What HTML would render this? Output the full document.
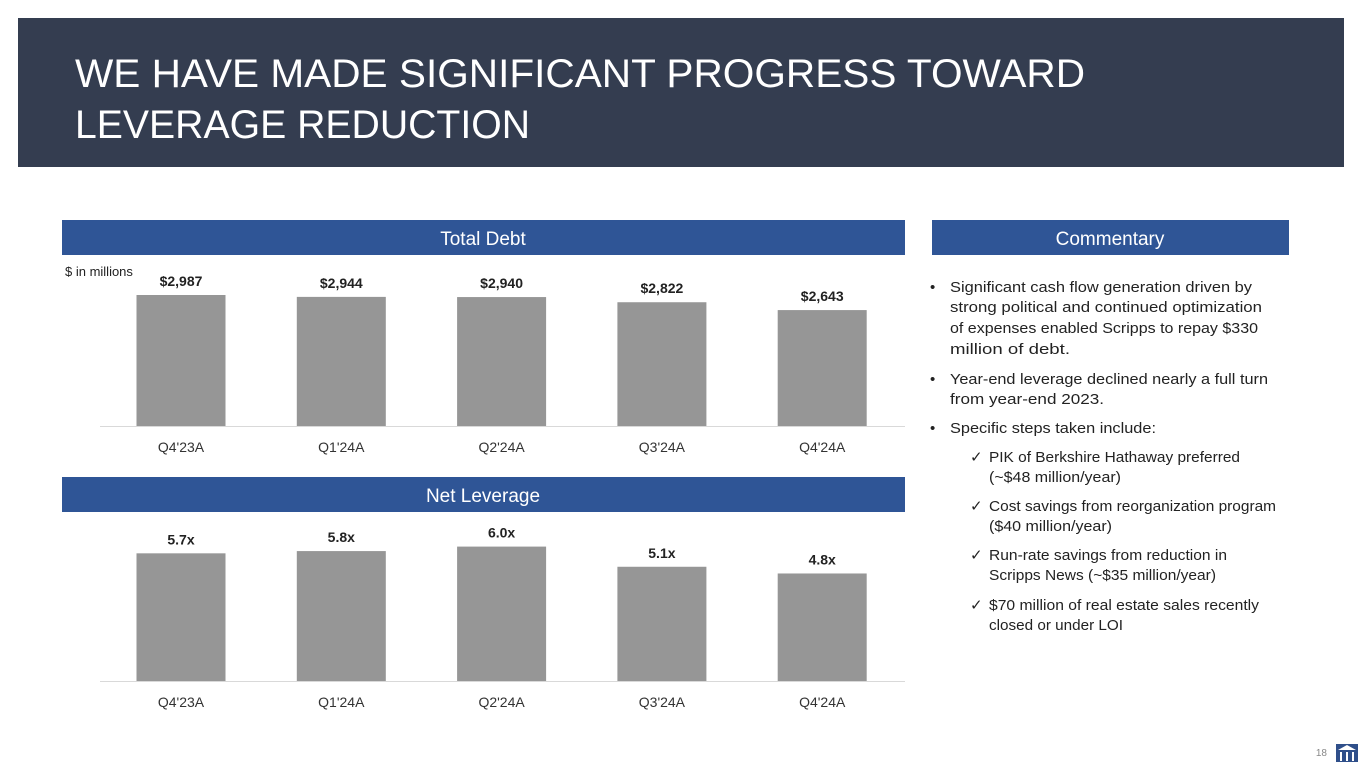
<!DOCTYPE html>
<html><head><meta charset="utf-8"><style>
html,body{margin:0;padding:0;background:#fff;}
svg{display:block;font-family:"Liberation Sans",sans-serif;}
</style></head><body>
<svg id="s" width="1365" height="768" viewBox="0 0 1365 768">
<rect x="18" y="18" width="1326" height="149" fill="#343d50"/>
<text x="75" y="87" fill="#fff" font-size="40" textLength="1010" lengthAdjust="spacingAndGlyphs">WE HAVE MADE SIGNIFICANT PROGRESS TOWARD</text>
<text x="75" y="138" fill="#fff" font-size="40" textLength="455" lengthAdjust="spacingAndGlyphs">LEVERAGE REDUCTION</text>

<rect x="62" y="220" width="843" height="35" fill="#2f5596"/>
<text x="483" y="245" fill="#fff" font-size="19" text-anchor="middle">Total Debt</text>
<rect x="932" y="220" width="357" height="35" fill="#2f5596"/>
<text x="1110" y="245" fill="#fff" font-size="19" text-anchor="middle">Commentary</text>
<rect x="62" y="477" width="843" height="35" fill="#2f5596"/>
<text x="483" y="502" fill="#fff" font-size="19" text-anchor="middle">Net Leverage</text>
<text x="65" y="276" fill="#222" font-size="13">$ in millions</text>

<g id="c1"></g><g id="c2"></g>

<g font-size="15" fill="#222">
<text x="930" y="292">•</text><text x="950" y="292" textLength="302" lengthAdjust="spacingAndGlyphs">Significant cash flow generation driven by</text>
<text x="950" y="312" textLength="312" lengthAdjust="spacingAndGlyphs">strong political and continued optimization</text>
<text x="950" y="333" textLength="308" lengthAdjust="spacingAndGlyphs">of expenses enabled Scripps to repay $330</text>
<text x="950" y="354" textLength="120" lengthAdjust="spacingAndGlyphs">million of debt.</text>
<text x="930" y="384">•</text><text x="950" y="384" textLength="318" lengthAdjust="spacingAndGlyphs">Year-end leverage declined nearly a full turn</text>
<text x="950" y="404" textLength="154" lengthAdjust="spacingAndGlyphs">from year-end 2023.</text>
<text x="930" y="433">•</text><text x="950" y="433" textLength="206" lengthAdjust="spacingAndGlyphs">Specific steps taken include:</text>
<text x="970" y="462">✓</text><text x="989" y="462" textLength="251" lengthAdjust="spacingAndGlyphs">PIK of Berkshire Hathaway preferred</text>
<text x="989" y="482" textLength="132" lengthAdjust="spacingAndGlyphs">(~$48 million/year)</text>
<text x="970" y="511">✓</text><text x="989" y="511" textLength="287" lengthAdjust="spacingAndGlyphs">Cost savings from reorganization program</text>
<text x="989" y="531" textLength="123" lengthAdjust="spacingAndGlyphs">($40 million/year)</text>
<text x="970" y="560">✓</text><text x="989" y="560" textLength="238" lengthAdjust="spacingAndGlyphs">Run-rate savings from reduction in</text>
<text x="989" y="580" textLength="227" lengthAdjust="spacingAndGlyphs">Scripps News (~$35 million/year)</text>
<text x="970" y="610">✓</text><text x="989" y="610" textLength="270" lengthAdjust="spacingAndGlyphs">$70 million of real estate sales recently</text>
<text x="989" y="630" textLength="134" lengthAdjust="spacingAndGlyphs">closed or under LOI</text>
</g>
<text x="1327" y="756" fill="#888" font-size="10" text-anchor="end">18</text>
<g>
<rect x="1336" y="744" width="22" height="18" fill="#2f4f8a"/>
<path d="M1338 750 L1347 745 L1356 750 Z" fill="#fff"/>
<rect x="1340" y="752" width="2" height="9" fill="#fff"/><rect x="1346" y="752" width="2" height="9" fill="#fff"/><rect x="1352" y="752" width="2" height="9" fill="#fff"/>
</g>
</svg>
<script>
const categories = ["Q4'23A","Q1'24A","Q2'24A","Q3'24A","Q4'24A"];
const debtValues = [2987,2944,2940,2822,2643];
const debtLabels = ["$2,987","$2,944","$2,940","$2,822","$2,643"];
const leverageValues = [5.7,5.8,6.0,5.1,4.8];
const leverageLabels = ["5.7x","5.8x","6.0x","5.1x","4.8x"];
const NS="http://www.w3.org/2000/svg";
function mk(t,a){const e=document.createElementNS(NS,t);for(const k in a)e.setAttribute(k,a[k]);return e;}
function chart(gid,vals,labels,base,pxPerUnit,prefix){
  const g=document.getElementById(gid);
  
  
  const xc=i=>181+i*160.3;
  const yv=v=>base-v*pxPerUnit;
  const ax=mk('line',{x1:100,x2:905,y1:base+0.5,y2:base+0.5,stroke:'#d9d9d9','stroke-width':1});
  
  
  g.appendChild(ax);
  vals.forEach((v,i)=>{
    const r=mk('rect',{x:xc(i)-44.5,y:yv(v),width:89,height:base-yv(v),fill:'#969696'});
    
    
    g.appendChild(r);
    const t=mk('text',{x:xc(i),y:yv(v)-9,'text-anchor':'middle','font-size':14,'font-weight':'bold',fill:'#222'});
    t.textContent=labels[i];
    
    
    g.appendChild(t);
    const c=mk('text',{x:xc(i),y:base+26,'text-anchor':'middle','font-size':14,fill:'#333'});
    c.textContent=categories[i];
    
    
    g.appendChild(c);
  });
}
chart('c1',debtValues,debtLabels,426,131/2987,'debt');
chart('c2',leverageValues,leverageLabels,681,22.4,'leverage');
</script>
</body></html>
